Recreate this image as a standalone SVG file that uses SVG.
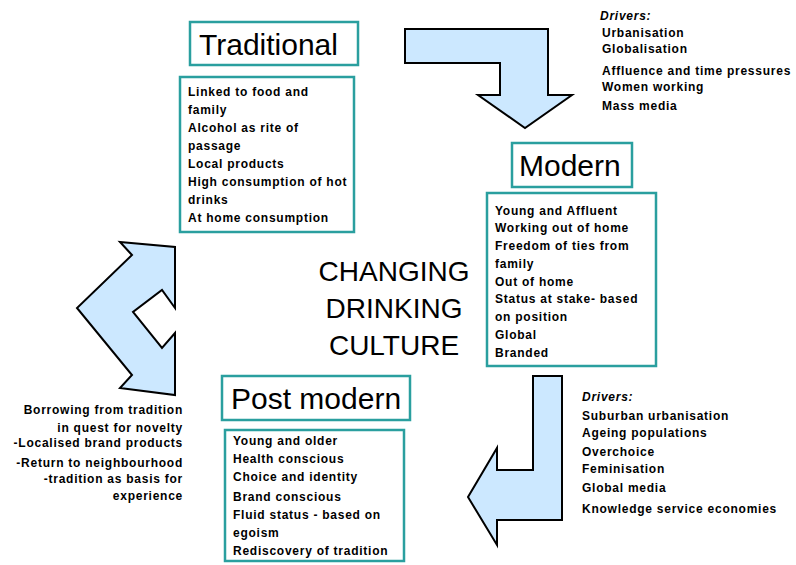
<svg xmlns="http://www.w3.org/2000/svg" width="796" height="565" viewBox="0 0 796 565">
<style>
.box{fill:#fff;stroke:#2a9f9f;stroke-width:2.5}
.ttl{font-family:"Liberation Sans",Arial,sans-serif;font-size:30px;fill:#000}
.t{font-family:"Liberation Sans",Arial,sans-serif;font-size:12px;font-weight:bold;fill:#000;letter-spacing:0.75px}
.arr{fill:#cce8ff;stroke:#000;stroke-width:2;stroke-linejoin:miter}
.big{font-family:"Liberation Sans",Arial,sans-serif;font-size:28px;fill:#000;text-anchor:middle}
</style>
<g id="connectors">
<polygon class="arr" points="405,29 548,29 548,95 572,95 525,128 478,95 500,95 500,63 405,63"/>
<polygon class="arr" points="533,376 562,376 562,520 497,520 497,545 468,497 497,448 497,470 533,470"/>
<polygon class="arr" points="120,242 175,247 175,308 162,290 133,312 162,348 175,333 175,395 120,388 132,375 77,308 132,255"/>
</g>
<g id="traditional">
<rect class="box" x="190" y="22" width="168" height="43"/>
<text class="ttl" x="199" y="55">Traditional</text>
</g>
<g id="traditional-features">
<rect class="box" x="180" y="77" width="174" height="155"/>
<text class="t" x="188" y="96">Linked to food and</text>
<text class="t" x="188" y="114">family</text>
<text class="t" x="188" y="132">Alcohol as rite of</text>
<text class="t" x="188" y="150">passage</text>
<text class="t" x="188" y="168">Local products</text>
<text class="t" x="188" y="186">High consumption of hot</text>
<text class="t" x="188" y="204">drinks</text>
<text class="t" x="188" y="222">At home consumption</text>
</g>
<g id="drivers-1">
<text class="t" x="600" y="20" font-style="italic">Drivers:</text>
<text class="t" x="602" y="37">Urbanisation</text>
<text class="t" x="602" y="53">Globalisation</text>
<text class="t" x="602" y="75">Affluence and time pressures</text>
<text class="t" x="602" y="91">Women working</text>
<text class="t" x="602" y="110">Mass media</text>
</g>
<g id="modern">
<rect class="box" x="512" y="143" width="120" height="44"/>
<text class="ttl" x="519" y="176">Modern</text>
</g>
<g id="modern-features">
<rect class="box" x="487" y="193" width="169" height="173"/>
<text class="t" x="495" y="215">Young and Affluent</text>
<text class="t" x="495" y="232">Working out of home</text>
<text class="t" x="495" y="250">Freedom of ties from</text>
<text class="t" x="495" y="268">family</text>
<text class="t" x="495" y="286">Out of home</text>
<text class="t" x="495" y="303">Status at stake- based</text>
<text class="t" x="495" y="321">on position</text>
<text class="t" x="495" y="339">Global</text>
<text class="t" x="495" y="357">Branded</text>
</g>
<g id="center">
<text class="big" x="394" y="281">CHANGING</text>
<text class="big" x="394" y="318">DRINKING</text>
<text class="big" x="394" y="355">CULTURE</text>
</g>
<g id="drivers-2">
<text class="t" x="582" y="401" font-style="italic">Drivers:</text>
<text class="t" x="582" y="420">Suburban urbanisation</text>
<text class="t" x="582" y="437">Ageing populations</text>
<text class="t" x="582" y="456">Overchoice</text>
<text class="t" x="582" y="473">Feminisation</text>
<text class="t" x="582" y="492">Global media</text>
<text class="t" x="582" y="513">Knowledge service economies</text>
</g>
<g id="post-modern">
<rect class="box" x="222" y="376" width="188" height="44"/>
<text class="ttl" x="231" y="409">Post modern</text>
</g>
<g id="post-modern-features">
<rect class="box" x="225" y="430" width="179" height="131"/>
<text class="t" x="233" y="445">Young and older</text>
<text class="t" x="233" y="463">Health conscious</text>
<text class="t" x="233" y="481">Choice and identity</text>
<text class="t" x="233" y="501">Brand conscious</text>
<text class="t" x="233" y="519">Fluid status -  based on</text>
<text class="t" x="233" y="537">egoism</text>
<text class="t" x="233" y="555">Rediscovery of tradition</text>
</g>
<g id="borrowing" text-anchor="end">
<text class="t" x="183" y="414">Borrowing from tradition</text>
<text class="t" x="183" y="432">in quest for novelty</text>
<text class="t" x="183" y="447">-Localised brand products</text>
<text class="t" x="183" y="467">-Return to neighbourhood</text>
<text class="t" x="183" y="483">-tradition as basis for</text>
<text class="t" x="183" y="500">experience</text>
</g>
</svg>
